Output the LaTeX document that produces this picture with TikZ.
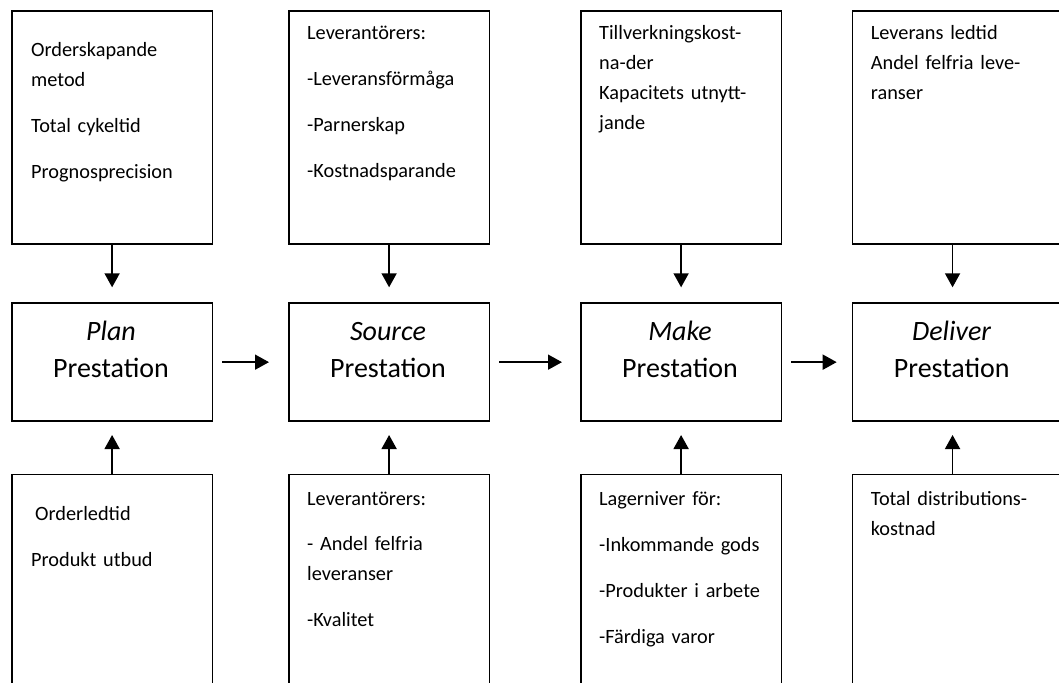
\documentclass[tikz,border=0pt]{standalone}
\usepackage{fontspec}
\setmainfont{Carlito}
\usetikzlibrary{arrows,arrows.meta,positioning,calc}

\tikzset{
  box/.style={draw, line width=1.7pt, minimum width=200.5pt, inner sep=0pt, anchor=north west},
  toptxt/.style={text width=185pt, align=left, anchor=base west, inner sep=0pt, font=\fontsize{20.3}{30}\selectfont},
  bigtxt/.style={text width=200pt, align=center, anchor=base, inner sep=0pt, font=\fontsize{28}{37}\selectfont},
  arr/.style={line width=1.7pt, -{Triangle[length=14pt,width=15pt]}}
}

\begin{document}
\begin{tikzpicture}[x=1pt,y=-1pt]
  % Define page
  \clip (0,0) rectangle (1059,682);
  \fill[white] (0,0) rectangle (1059,682);
  % Draw top boxes
  \node[box, minimum height=233pt] (plantop) at (11,10) {};
  \node[box, minimum height=233pt] (sourcetop) at (288,10) {};
  \node[box, minimum height=233pt] (maketop) at (580,10) {};
  \node[box, minimum height=233pt, minimum width=220pt] (delivtop) at (851.7,10) {};
  % Draw middle boxes
  \node[box, minimum height=118pt] (planmid) at (11,302.3) {};
  \node[box, minimum height=118pt] (sourcemid) at (288,302.3) {};
  \node[box, minimum height=118pt] (makemid) at (580,302.3) {};
  \node[box, minimum height=118pt, minimum width=220pt] (delivmid) at (851.7,302.3) {};
  % Draw bottom boxes
  \node[box, minimum height=240pt] (planbot) at (11,473.7) {};
  \node[box, minimum height=240pt] (sourcebot) at (288,473.7) {};
  \node[box, minimum height=240pt] (makebot) at (580,473.7) {};
  \node[box, minimum height=240pt, minimum width=220pt] (delivbot) at (851.7,473.7) {};
  % Top texts
  \node[toptxt] (plantoptxt) at ($(plantop.north west)+(20,47)$)
    {Orderskapande\\metod\\[16pt]Total cykeltid\\[16pt]Prognosprecision};
  \node[toptxt] (sourcetoptxt) at ($(sourcetop.north west)+(19,30)$)
    {Leverantörers:\\[16pt]-Leveransförmåga\\[16pt]-Parnerskap\\[16pt]-Kostnadsparande};
  \node[toptxt] (maketoptxt) at ($(maketop.north west)+(19,29.5)$)
    {Tillverkningskost-\\na-der\\Kapacitets utnytt-\\jande};
  \node[toptxt] (delivtoptxt) at ($(delivtop.north west)+(19,29.5)$)
    {Leverans ledtid\\Andel felfria leve-\\ranser};
  % Middle texts
  \node[bigtxt] (planmidtxt) at ($(planmid.north west)+(100,38)$) {\textit{Plan}\\Prestation};
  \node[bigtxt] (sourcemidtxt) at ($(sourcemid.north west)+(100,38)$) {\textit{Source}\\Prestation};
  \node[bigtxt] (makemidtxt) at ($(makemid.north west)+(100,38)$) {\textit{Make}\\Prestation};
  \node[bigtxt] (delivmidtxt) at ($(delivmid.north west)+(100,38)$) {\textit{Deliver}\\Prestation};
  % Bottom texts
  \node[toptxt] (planbottxt) at ($(planbot.north west)+(20,46.5)$)
    {\hspace{4pt}Orderledtid\\[16pt]Produkt utbud};
  \node[toptxt] (sourcebottxt) at ($(sourcebot.north west)+(19,31.5)$)
    {Leverantörers:\\[15pt]- Andel felfria\\leveranser\\[16pt]-Kvalitet};
  \node[toptxt] (makebottxt) at ($(makebot.north west)+(19,31.5)$)
    {Lagerniver för:\\[16pt]-Inkommande gods\\[16pt]-Produkter i arbete\\[16pt]-Färdiga varor};
  \node[toptxt] (delivbottxt) at ($(delivbot.north west)+(19,31.5)$)
    {Total distributions-\\kostnad};
  % Draw arrows down
  \draw[arr, shorten >=15pt] (plantop) -- (planmid);
  \draw[arr, shorten >=15pt] (sourcetop) -- (sourcemid);
  \draw[arr, shorten >=15pt] (maketop) -- (makemid);
  \draw[arr, shorten >=15pt] ([xshift=-10pt]delivtop.south) -- ([xshift=-10pt]delivmid.north);
  % Draw arrows up
  \draw[arr, shorten >=13pt] (planbot) -- (planmid);
  \draw[arr, shorten >=13pt] (sourcebot) -- (sourcemid);
  \draw[arr, shorten >=13pt] (makebot) -- (makemid);
  \draw[arr, shorten >=13pt] ([xshift=-10pt]delivbot.north) -- ([xshift=-10pt]delivmid.south);
  % Draw arrows across
  \draw[arr, shorten <=9pt, shorten >=19pt] (planmid.east) -- (sourcemid.west);
  \draw[arr, shorten <=9pt, shorten >=18pt] (sourcemid.east) -- (makemid.west);
  \draw[arr, shorten <=9pt, shorten >=15pt] (makemid.east) -- (delivmid.west);
\end{tikzpicture}
\end{document}
